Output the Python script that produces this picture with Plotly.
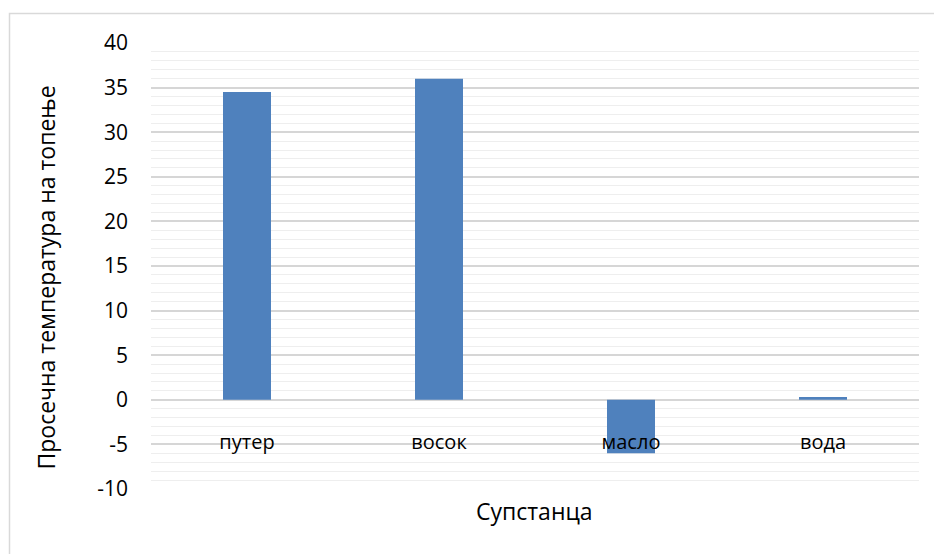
import plotly.graph_objects as go

categories = ["путер", "восок", "масло", "вода"]
values = [34.5, 36, -6, 0.3]
y_ticks = [-10, -5, 0, 5, 10, 15, 20, 25, 30, 35, 40]
y_tick_labels = ["-10", "-5", "0", "5", "10", "15", "20", "25", "30", "35", "40"]
y_title = "Просечна температура на топење"
x_title = "Супстанца"

FONT = "Open Sans"
y_min, y_max = -10, 40

fig = go.Figure(go.Bar(x=categories, y=values, marker=dict(color="#4f81bd", line=dict(width=0)),
                       width=0.25))

fig.update_layout(
    width=934, height=554,
    margin=dict(l=151, r=15, t=43, b=65),
    paper_bgcolor="white", plot_bgcolor="white",
    font=dict(family=FONT, size=21, color="#000000"),
    showlegend=False,
    xaxis=dict(
        anchor="free", position=(0 - y_min) / (y_max - y_min),
        showline=False, showgrid=False, ticks="",
        ticklabelstandoff=28, tickfont=dict(size=20),
    ),
    yaxis=dict(
        range=[y_min, y_max], tickvals=y_ticks, ticktext=y_tick_labels, showline=False,
        gridcolor="#d6d6d6", gridwidth=1.5,
        zeroline=True, zerolinecolor="#d6d6d6", zerolinewidth=1.5,
        minor=dict(dtick=1, showgrid=True, gridcolor="#eeeeee", gridwidth=1.2),
        ticklabelstandoff=22, tickfont=dict(size=21),
    ),
    annotations=[
        dict(text=y_title, textangle=-90, xref="paper", yref="paper",
             x=(45 - 151) / 768, y=(489 - 277.5) / 446, showarrow=False,
             xanchor="center", yanchor="middle", font=dict(size=23)),
        dict(text=x_title, xref="paper", yref="paper",
             x=(534 - 151) / 768, y=(489 - 511) / 446, showarrow=False,
             xanchor="center", yanchor="middle", font=dict(size=23)),
    ],
    shapes=[
        dict(type="rect", xref="paper", yref="paper",
             x0=(9.5 - 151) / 768, x1=(945 - 151) / 768,
             y0=(489 - 570) / 446, y1=(489 - 13.5) / 446,
             line=dict(color="#d9d9d9", width=1.5), fillcolor="rgba(0,0,0,0)", layer="below"),
    ],
)

fig.write_html("out.html", config={"displayModeBar": False},
               post_script="document.body.style.margin='0';document.body.style.overflow='hidden';")
